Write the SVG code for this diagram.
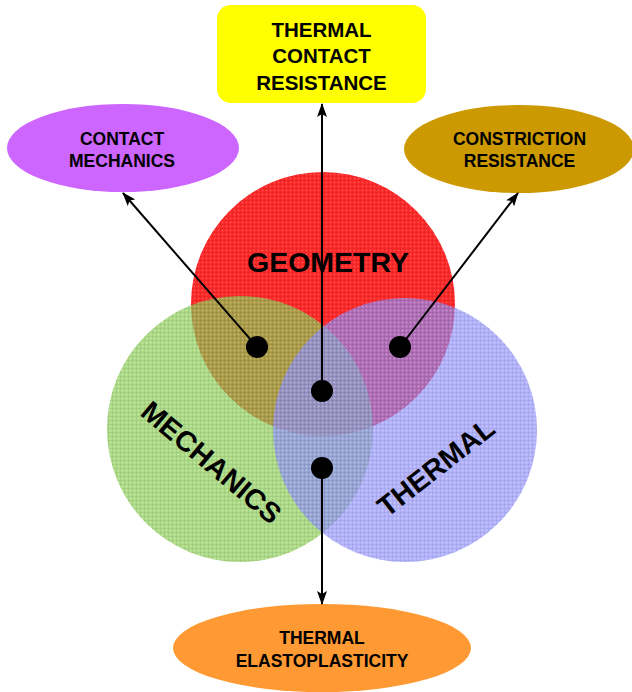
<svg xmlns="http://www.w3.org/2000/svg" width="632" height="692" viewBox="0 0 632 692">
<style>
.lbl{font-family:"Liberation Sans",Arial,sans-serif;font-weight:bold;fill:#000;text-anchor:middle}
.big{font-size:28.5px}
.med{font-size:20.5px}
.sm{font-size:17.5px}
.conn{stroke:#000;stroke-width:2;fill:none;marker-end:url(#arr)}
.dot{fill:#000}
</style>
<defs>
<marker id="arr" viewBox="0 0 14 10" refX="13" refY="5" markerWidth="14" markerHeight="10" markerUnits="userSpaceOnUse" orient="auto">
<path d="M0,0 L14,5 L0,10 L3,5 Z" fill="#000"/>
</marker>
<pattern id="grid" width="4" height="4" patternUnits="userSpaceOnUse">
<path d="M0,0.5 H4 M0.5,0 V4" stroke="#000" stroke-opacity="0.06" stroke-width="1"/>
<rect x="2" y="2" width="1" height="1" fill="#fff" fill-opacity="0.3"/>
</pattern>
</defs>
<g id="circle-geometry">
<circle cx="323" cy="304" r="132" fill="#ff2a2a"/>
<circle cx="323" cy="304" r="132" fill="url(#grid)"/>
</g>
<g id="circle-mechanics">
<circle cx="240" cy="429" r="133" fill="#8ed05a" fill-opacity="0.7"/>
<circle cx="240" cy="429" r="133" fill="url(#grid)"/>
</g>
<g id="circle-thermal">
<circle cx="405" cy="430" r="132" fill="#9494ff" fill-opacity="0.68"/>
<circle cx="405" cy="430" r="132" fill="url(#grid)"/>
</g>
<g id="circle-labels">
<text class="lbl big" x="328" y="272">GEOMETRY</text>
<text class="lbl big" transform="translate(205,470) rotate(40)" x="0" y="0">MECHANICS</text>
<text class="lbl big" transform="translate(442,475) rotate(-38)" x="0" y="0">THERMAL</text>
</g>
<g id="node-tcr">
<rect x="217" y="5" width="209" height="98" rx="14" fill="#ffff00"/>
<text class="lbl med" x="321.5" y="37">THERMAL</text>
<text class="lbl med" x="321.5" y="63">CONTACT</text>
<text class="lbl med" x="321.5" y="90">RESISTANCE</text>
</g>
<g id="node-contact-mechanics">
<ellipse cx="123" cy="148" rx="116" ry="44" fill="#cc66ff"/>
<text class="lbl sm" x="122" y="145">CONTACT</text>
<text class="lbl sm" x="122" y="167">MECHANICS</text>
</g>
<g id="node-constriction">
<ellipse cx="519" cy="149" rx="115" ry="44" fill="#cc9900"/>
<text class="lbl sm" x="519.5" y="145">CONSTRICTION</text>
<text class="lbl sm" x="519.5" y="167">RESISTANCE</text>
</g>
<g id="node-elastoplasticity">
<ellipse cx="322" cy="648" rx="149" ry="44" fill="#ff9933"/>
<text class="lbl sm" x="322" y="644">THERMAL</text>
<text class="lbl sm" x="322" y="667">ELASTOPLASTICITY</text>
</g>
<g id="connectors">
<line class="conn" x1="257" y1="347" x2="123" y2="193"/>
<line class="conn" x1="400" y1="347" x2="518" y2="193"/>
<line class="conn" x1="322" y1="391" x2="322" y2="104"/>
<line class="conn" x1="322" y1="468" x2="322" y2="604"/>
<circle class="dot" cx="257" cy="347" r="11"/>
<circle class="dot" cx="400" cy="347" r="11"/>
<circle class="dot" cx="322" cy="391" r="11"/>
<circle class="dot" cx="322" cy="468" r="11"/>
</g>
</svg>
